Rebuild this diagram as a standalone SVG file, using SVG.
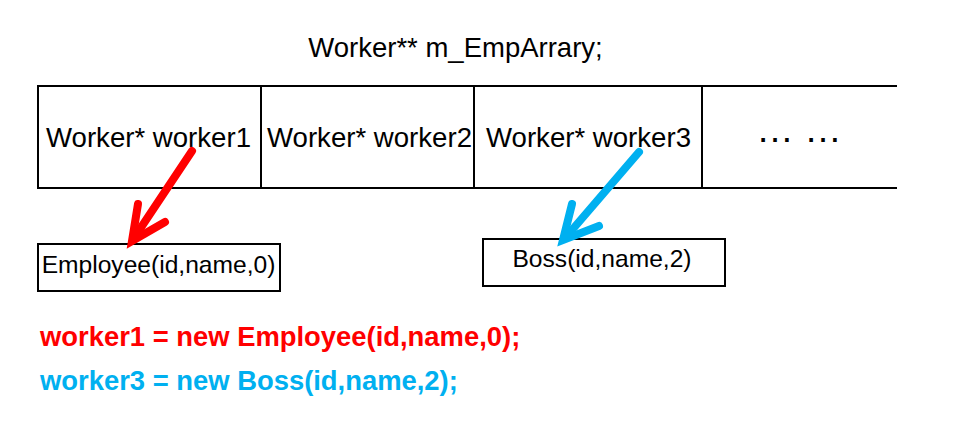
<svg xmlns="http://www.w3.org/2000/svg" width="955" height="430" viewBox="0 0 955 430">
<style>
.t{font-family:"Liberation Sans",Arial,sans-serif;fill:#000;}
.ln{stroke:#000;stroke-width:2;fill:none;}
.box{stroke:#000;stroke-width:2;fill:#fff;}
.arr{fill:none;stroke-width:8;stroke-linecap:round;stroke-linejoin:miter;stroke-miterlimit:10;}
.code{font-family:"Liberation Sans",Arial,sans-serif;font-weight:bold;font-size:27.4px;}
</style>
<rect width="955" height="430" fill="#fff"/>
<text class="t" x="455.5" y="57" font-size="27.5" text-anchor="middle">Worker** m_EmpArrary;</text>
<g id="array">
<path class="ln" d="M897,86 H38 V188 H897 M261,86 V188 M474,86 V188 M702,86 V188"/>
</g>
<g id="cell1"><text class="t" x="148.5" y="147" font-size="27.6" text-anchor="middle">Worker* worker1</text></g>
<g id="cell2"><text class="t" x="369.5" y="147" font-size="27.6" text-anchor="middle">Worker* worker2</text></g>
<g id="cell3"><text class="t" x="588.5" y="147" font-size="27.6" text-anchor="middle">Worker* worker3</text></g>
<g id="cell4"><text class="t" x="799" y="142" font-size="37.5" text-anchor="middle">… …</text></g>
<g id="employee">
<rect class="box" x="38" y="244" width="242" height="47"/>
<text class="t" x="158.5" y="273" font-size="24.6" text-anchor="middle">Employee(id,name,0)</text>
</g>
<g id="boss">
<rect class="box" x="483" y="239" width="242" height="47"/>
<text class="t" x="602" y="267" font-size="24.6" text-anchor="middle">Boss(id,name,2)</text>
</g>
<g id="connectors">
<g stroke="#FF0000" class="arr">
<line x1="192" y1="151" x2="134" y2="238"/>
<polyline points="138,204 132,241 165,222"/>
</g>
<g stroke="#00B0F0" class="arr">
<line x1="639" y1="152" x2="566" y2="237"/>
<polyline points="572,204 563,240 599,226"/>
</g>
</g>
<text class="code" x="40" y="346" fill="#FF0000">worker1 = new Employee(id,name,0);</text>
<text class="code" x="40" y="390" fill="#00B0F0">worker3 = new Boss(id,name,2);</text>
</svg>
